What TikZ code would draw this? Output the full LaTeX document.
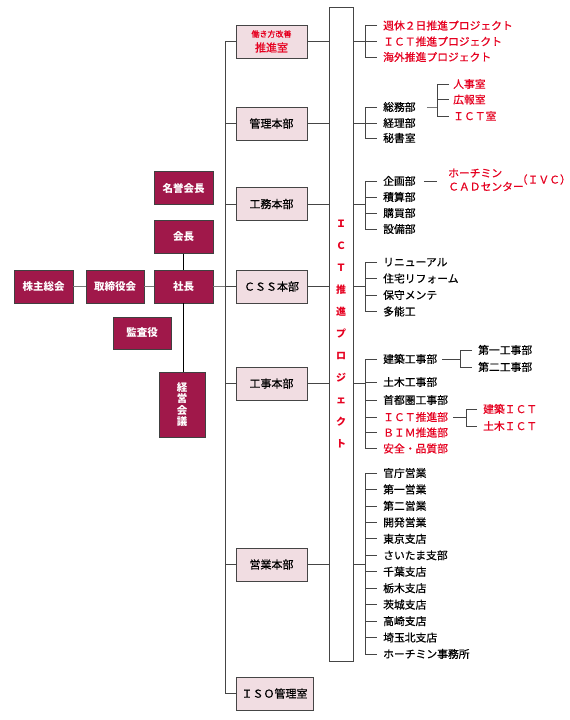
\documentclass[tikz,border=0pt]{standalone}
\usepackage{fontspec}
\setmainfont{Noto Sans CJK JP}
\newfontfamily\medfont{Noto Sans CJK JP}[FakeBold=0.6]
\usetikzlibrary{calc}
\definecolor{maroon}{HTML}{A0184A}
\definecolor{pinkbox}{HTML}{F1DDE2}
\definecolor{redtxt}{HTML}{E60020}
\definecolor{linegray}{HTML}{454545}
\definecolor{lightline}{HTML}{7A7A7A}
\begin{document}
\begin{tikzpicture}[x=1pt,y=-1pt,
  darkbox/.style={draw=black!75, line width=0.8pt, fill=maroon, text=white,
    font=\fontsize{10.5}{12}\selectfont\bfseries, minimum width=59, minimum height=33, inner sep=0},
  midbox/.style={draw=linegray, line width=0.8pt, fill=pinkbox, text=black,
    font=\medfont\fontsize{11}{13}\selectfont, minimum width=71, minimum height=33, inner sep=0},
  item/.style={anchor=west, inner sep=0, text height=8.2, text depth=0, font=\medfont\fontsize{10.8}{12}\selectfont},
  reditem/.style={item, text=redtxt},
  ln/.style={draw=linegray, line width=0.8pt},
  lln/.style={draw=lightline, line width=0.8pt}
]
\useasboundingbox (0,0) rectangle (570,720);
\fill[white] (0,0) rectangle (570,720);

% ---- left executive boxes
\node[darkbox] (meiyo) at (183.5,188) {名誉会長};
\node[darkbox] (kaicho) at (183.5,237) {会長};
\node[darkbox] (shacho) at (183.5,286.5) {社長};
\node[darkbox, minimum width=58] (torishimari) at (115,286.5) {取締役会};
\node[darkbox] (kabunushi) at (43.5,286.5) {株主総会};
\node[darkbox, minimum width=58, minimum height=32] (kansa) at (142,333) {監査役};
\node[darkbox, minimum width=46, minimum height=65, align=center,
      font=\fontsize{10.5}{11.5}\selectfont\bfseries] (keiei) at (182,404.5) {経\\営\\会\\議};

% ---- middle boxes
\node[midbox] (hataraki) at (271.5,41.5) {};
\node[inner sep=0, text=redtxt, font=\medfont\fontsize{8}{9}\selectfont] (h1) at (271.5,34) {働き方改善};
\node[inner sep=0, text=redtxt, font=\medfont\fontsize{11}{12}\selectfont] (h2) at (271.5,47.5) {推進室};
\node[midbox] (kanri) at (271.5,123.5) {管理本部};
\node[midbox] (koumu) at (271.5,204) {工務本部};
\node[midbox] (css) at (271.5,286.5) {ＣＳＳ本部};
\node[midbox] (kouji) at (271.5,383.5) {工事本部};
\node[midbox] (eigyo) at (271.5,564.5) {営業本部};
\node[midbox, minimum width=77] (iso) at (274.5,693.5) {ＩＳＯ管理室};

% ---- ICT project column
\node[draw=linegray, line width=0.8pt, minimum width=24, minimum height=654, inner sep=0,
      align=center, text=redtxt, font=\fontsize{10}{22}\selectfont\bfseries] (ict) at (341,334)
      {Ｉ\\Ｃ\\Ｔ\\推\\進\\プ\\ロ\\ジ\\ェ\\ク\\ト};

\coordinate (sp) at (225,0);
\coordinate (bx) at (365,0);
\coordinate (tx) at (377,0);

% ---- left connectors
\draw[lln] (kabunushi.east) -- (torishimari.west);
\draw[lln] (torishimari.east) -- (shacho.west);
\draw[lln] (shacho.east) -- (shacho.east -| sp);
\draw[ln, draw=black] (kaicho.south) -- (shacho.north);
\draw[ln, draw=black] (shacho.south) -- (shacho.south |- keiei.north);

% ---- spine
\draw[ln] (hataraki.west) -- (hataraki.west -| sp) -- (iso.west -| sp) -- (iso.west);
\foreach \n in {kanri,koumu,css,kouji,eigyo} {
  \draw[ln] (\n.west) -- (\n.west -| sp);
  \draw[ln] (\n.east) -- (\n.east -| ict.west);
}
\draw[ln] (hataraki.east) -- (hataraki.east -| ict.west);

% ---- group 1
\node[reditem] (a1) at (383,25.5) {週休２日推進プロジェクト};
\node[reditem] (a2) at (383,41.5) {ＩＣＴ推進プロジェクト};
\node[reditem] (a3) at (383,57) {海外推進プロジェクト};
\draw[ln] (ict.east |- hataraki) -- (hataraki -| bx);
\draw[ln] (a1.west -| tx) -- (a1.west -| bx) -- (a3.west -| bx) -- (a3.west -| tx);
\draw[ln] (a2.west -| bx) -- (a2.west -| tx);

% ---- group 2
\node[item] (b1) at (383,107) {総務部};
\node[item] (b2) at (383,123) {経理部};
\node[item] (b3) at (383,138) {秘書室};
\draw[ln] (ict.east |- kanri) -- (kanri -| bx);
\draw[ln] (b1.west -| tx) -- (b1.west -| bx) -- (b3.west -| bx) -- (b3.west -| tx);
\draw[ln] (b2.west -| bx) -- (b2.west -| tx);
\node[reditem] (r1) at (453,84) {人事室};
\node[reditem] (r2) at (453,99.5) {広報室};
\node[reditem] (r3) at (453,116) {ＩＣＴ室};
\coordinate (s1) at (437,0);
\draw[lln] ([xshift=11pt]b1.east) -- (b1.east -| s1);
\draw[ln] ([xshift=-4pt]r1.west) -- (r1.west -| s1) -- (r3.west -| s1) -- ([xshift=-4pt]r3.west);
\draw[ln] (r2.west -| s1) -- ([xshift=-4pt]r2.west);

% ---- group 3
\node[item] (c1) at (383,181) {企画部};
\node[item] (c2) at (383,197) {積算部};
\node[item] (c3) at (383,213) {購買部};
\node[item] (c4) at (383,229) {設備部};
\draw[ln] (ict.east |- koumu) -- (koumu -| bx);
\draw[ln] (c1.west -| tx) -- (c1.west -| bx) -- (c4.west -| bx) -- (c4.west -| tx);
\foreach \i in {2,3} \draw[ln] (c\i.west -| bx) -- (c\i.west -| tx);
\node[reditem] (hcm) at (448,173) {ホーチミン};
\node[reditem] (cad) at (448,186.5) {ＣＡＤセンター};
\node[reditem, anchor=east] (ivc) at (571,179.5) {（ＩＶＣ）};
\draw[ln] ([xshift=8pt]c1.east) -- ($(c1.east -| hcm.west)+(-11,0)$);

% ---- group 4
\node[item] (d1) at (383,262) {リニューアル};
\node[item] (d2) at (383,278.5) {住宅リフォーム};
\node[item] (d3) at (383,295) {保守メンテ};
\node[item] (d4) at (383,311.5) {多能工};
\draw[ln] (ict.east |- css) -- (css -| bx);
\draw[ln] (d1.west -| tx) -- (d1.west -| bx) -- (d4.west -| bx) -- (d4.west -| tx);
\foreach \i in {2,3} \draw[ln] (d\i.west -| bx) -- (d\i.west -| tx);

% ---- group 5
\node[item] (e1) at (383,359) {建築工事部};
\node[item] (e2) at (383,382) {土木工事部};
\node[item] (e3) at (383,400) {首都圏工事部};
\node[reditem] (e4) at (383,417) {ＩＣＴ推進部};
\node[reditem] (e5) at (383,432.5) {ＢＩＭ推進部};
\node[reditem] (e6) at (383,448.5) {安全・品質部};
\draw[ln] (ict.east |- kouji) -- (kouji -| bx);
\draw[ln] (e1.west -| tx) -- (e1.west -| bx) -- (e6.west -| bx) -- (e6.west -| tx);
\foreach \i in {2,...,5} \draw[ln] (e\i.west -| bx) -- (e\i.west -| tx);
\node[item] (k1) at (478,350) {第一工事部};
\node[item] (k2) at (478,367) {第二工事部};
\coordinate (s2) at (460,0);
\draw[ln] ([xshift=5pt]e1.east) -- (e1.east -| s2);
\draw[ln] ([xshift=-6pt]k1.west) -- (k1.west -| s2) -- (k2.west -| s2) -- ([xshift=-6pt]k2.west);
\node[reditem] (m1) at (483,409) {建築ＩＣＴ};
\node[reditem] (m2) at (483,426) {土木ＩＣＴ};
\coordinate (s3) at (466,0);
\draw[ln] ([xshift=5pt]e4.east) -- (e4.east -| s3);
\draw[ln] ([xshift=-6pt]m1.west) -- (m1.west -| s3) -- (m2.west -| s3) -- ([xshift=-6pt]m2.west);

% ---- group 6
\foreach \t [count=\i] in {官庁営業,第一営業,第二営業,開発営業,東京支店,さいたま支部,千葉支店,栃木支店,茨城支店,高崎支店,埼玉北支店,ホーチミン事務所}
  \node[item] (f\i) at (383,{473+(\i-1)*16.45}) {\t};
\draw[ln] (ict.east |- eigyo) -- (eigyo -| bx);
\draw[ln] (f1.west -| tx) -- (f1.west -| bx) -- (f12.west -| bx) -- (f12.west -| tx);
\foreach \i in {2,...,11} \draw[ln] (f\i.west -| bx) -- (f\i.west -| tx);
\end{tikzpicture}
\end{document}
